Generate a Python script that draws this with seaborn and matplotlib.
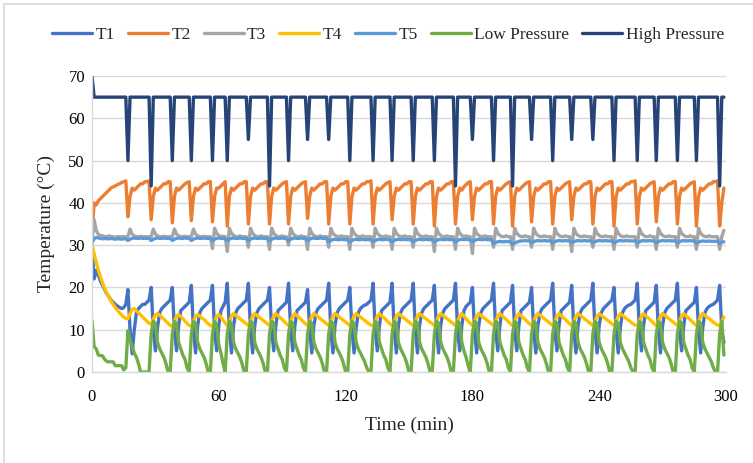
import numpy as np
import pandas as pd
import seaborn as sns
import matplotlib
matplotlib.use("Agg")
import matplotlib.pyplot as plt
from matplotlib.lines import Line2D

# ---------------- data (1-min samples, grouped by cycle) -------------
series_names = ["T1", "T2", "T3", "T4", "T5", "Low Pressure", "High Pressure"]
x_ticks = [0, 60, 120, 180, 240, 300]
y_ticks = [0, 10, 20, 30, 40, 50, 60, 70]

high_pressure = [
    [70, 65, 65, 65, 65, 65, 65, 65, 65, 65, 65, 65, 65, 65, 65, 65, 65],
    [50, 65, 65, 65, 65, 65, 65, 65, 65, 65, 65],
    [44, 65, 65, 65, 65, 65, 65, 65, 65, 65],
    [50, 65, 65, 65, 65, 65, 65, 65, 65],
    [50, 65, 65, 65, 65, 65, 65, 65, 65, 65],
    [50, 65, 65, 65, 65, 65, 65],
    [50, 65, 65, 65, 65, 65, 65, 65, 65, 65],
    [55, 65, 65, 65, 65, 65, 65, 65, 65, 65],
    [44, 65, 65, 65, 65, 65, 65, 65, 65],
    [50, 65, 65, 65, 65, 65, 65, 65, 65],
    [55, 65, 65, 65, 65, 65, 65, 65, 65, 65],
    [55, 65, 65, 65, 65, 65, 65, 65, 65, 65],
    [50, 65, 65, 65, 65, 65, 65, 65, 65, 65, 65],
    [50, 65, 65, 65, 65, 65, 65, 65, 65],
    [50, 65, 65, 65, 65, 65, 65, 65, 65, 65],
    [50, 65, 65, 65, 65, 65, 65, 65, 65, 65],
    [50, 65, 65, 65, 65, 65, 65, 65, 65, 65],
    [44, 65, 65, 65, 65, 65, 65, 65],
    [55, 65, 65, 65, 65, 65, 65, 65, 65, 65],
    [50, 65, 65, 65, 65, 65, 65, 65, 65],
    [44, 65, 65, 65, 65, 65, 65, 65, 65],
    [55, 65, 65, 65, 65, 65, 65, 65, 65, 65],
    [50, 65, 65, 65, 65, 65, 65, 65, 65],
    [55, 65, 65, 65, 65, 65, 65, 65, 65, 65],
    [55, 65, 65, 65, 65, 65, 65, 65, 65, 65],
    [50, 65, 65, 65, 65, 65, 65, 65, 65, 65, 65],
    [50, 65, 65, 65, 65, 65, 65, 65, 65],
    [50, 65, 65, 65, 65, 65, 65, 65, 65, 65],
    [50, 65, 65, 65, 65, 65, 65, 65, 65],
    [50, 65, 65, 65, 65, 65, 65, 65, 65, 65, 65],
    [44, 65, 65],
]

t1 = [
    [30, 22, 24, 23, 21.5, 20.5, 19.5, 18.5, 17.8, 17, 16.5, 16, 15.6, 15.3, 15, 15.2, 16],
    [19.5, 10, 4.3, 10, 14, 15, 15.5, 16, 16, 16.5, 17],
    [20, 10, 5, 10.5, 14, 15, 15.5, 16, 16.5, 17],
    [20, 10, 5, 11, 14.5, 15, 15.5, 16, 16.5],
    [20.5, 10, 4.5, 11, 14, 15, 15.5, 16, 16.5, 17],
    [20.5, 10, 5, 11, 14.5, 15.5, 16.5],
    [21, 10, 4.5, 11, 14, 15, 15.5, 16, 16.5, 17],
    [21, 10, 4.5, 11, 14, 15, 15.5, 16, 16.5, 17],
    [20, 10, 5, 11, 14.5, 15, 15.5, 16, 16.5],
    [21, 10, 5, 11, 14.5, 15, 15.5, 16, 16.5],
    [19.5, 10, 4.5, 11, 14, 15, 15.5, 16, 16.5, 17],
    [21, 10, 4.5, 11, 14, 15, 15.5, 16, 16.5, 17],
    [20, 10, 4.5, 10.5, 14, 15, 15.5, 15.8, 16, 16.5, 17],
    [21, 10, 5, 11, 14.5, 15, 15.5, 16, 16.5],
    [21, 10, 4.5, 11, 14, 15, 15.5, 16, 16.5, 17],
    [21, 10, 4.5, 11, 14, 15, 15.5, 16, 16.5, 17],
    [20.5, 10, 4.5, 11, 14, 15, 15.5, 16, 16.5, 17],
    [21, 10, 5, 11, 14.5, 15.5, 16, 16.5],
    [20, 10, 4.5, 11, 14, 15, 15.5, 16, 16.5, 17],
    [21, 10, 5, 11, 14.5, 15, 15.5, 16, 16.5],
    [20.5, 10, 5, 11, 14.5, 15, 15.5, 16, 16.5],
    [20, 10, 4.5, 11, 14, 15, 15.5, 16, 16.5, 17],
    [21, 10, 5, 11, 14.5, 15, 15.5, 16, 16.5],
    [20.5, 10, 4.5, 11, 14, 15, 15.5, 16, 16.5, 17],
    [21, 10, 4.5, 11, 14, 15, 15.5, 16, 16.5, 17],
    [20, 10, 4.5, 10.5, 14, 15, 15.5, 15.8, 16, 16.5, 17],
    [21, 10, 5, 11, 14.5, 15, 15.5, 16, 16.5],
    [20.5, 10, 4.5, 11, 14, 15, 15.5, 16, 16.5, 17],
    [21, 10, 5, 11, 14.5, 15, 15.5, 16, 16.5],
    [20, 10, 4.5, 10.5, 14, 15, 15.5, 15.8, 16, 16.5, 17],
    [20.5, 10, 7],
]

t2 = [
    [32.5, 40, 39.5, 40.5, 41, 41.5, 42, 42.5, 43, 43.5, 43.8, 44, 44.3, 44.5, 44.8, 45, 45.2],
    [36.7, 41.5, 43.5, 43, 43.5, 44, 44.5, 44.5, 45, 45, 45.2],
    [36, 41.5, 43.5, 43, 43.5, 44, 44.5, 44.5, 45, 45],
    [35.3, 41.5, 43.5, 43, 43.5, 44, 44.5, 44.8, 45],
    [35.8, 41.5, 43.5, 43, 43.5, 44, 44.5, 44.5, 45, 45],
    [35.5, 41.5, 43.5, 43.5, 44, 44.5, 45],
    [34.5, 41.5, 43.5, 43, 43.5, 44, 44.5, 44.5, 45, 45],
    [35, 41.5, 43.5, 43, 43.5, 44, 44.5, 44.5, 45, 45],
    [35, 41.5, 43.5, 43, 43.5, 44, 44.5, 44.8, 45],
    [35, 41.5, 43.5, 43, 43.5, 44, 44.5, 44.8, 45],
    [36.3, 41.5, 43.5, 43, 43.5, 44, 44.5, 44.5, 45, 45],
    [35, 41.5, 43.5, 43, 43.5, 44, 44.5, 44.5, 45, 45],
    [35, 41.5, 43.5, 43, 43.5, 44, 44.5, 44.5, 45, 45, 45.2],
    [35, 41.5, 43.5, 43, 43.5, 44, 44.5, 44.8, 45],
    [36, 41.5, 43.5, 43, 43.5, 44, 44.5, 44.5, 45, 45],
    [35, 41.5, 43.5, 43, 43.5, 44, 44.5, 44.5, 45, 45],
    [34.5, 41.5, 43.5, 43, 43.5, 44, 44.5, 44.5, 45, 45],
    [35, 41.5, 43.5, 43, 43.8, 44.3, 44.8, 45],
    [36, 41.5, 43.5, 43, 43.5, 44, 44.5, 44.5, 45, 45],
    [35, 41.5, 43.5, 43, 43.5, 44, 44.5, 44.8, 45],
    [34.5, 41.5, 43.5, 43, 43.5, 44, 44.5, 44.8, 45],
    [35.5, 41.5, 43.5, 43, 43.5, 44, 44.5, 44.5, 45, 45],
    [35, 41.5, 43.5, 43, 43.5, 44, 44.5, 44.8, 45],
    [36, 41.5, 43.5, 43, 43.5, 44, 44.5, 44.5, 45, 45],
    [35, 41.5, 43.5, 43, 43.5, 44, 44.5, 44.5, 45, 45],
    [34.5, 41.5, 43.5, 43, 43.5, 44, 44.5, 44.5, 45, 45, 45.2],
    [35, 41.5, 43.5, 43, 43.5, 44, 44.5, 44.8, 45],
    [35.5, 41.5, 43.5, 43, 43.5, 44, 44.5, 44.5, 45, 45],
    [35, 41.5, 43.5, 43, 43.5, 44, 44.5, 44.8, 45],
    [34.5, 41.5, 43.5, 43, 43.5, 44, 44.5, 44.5, 45, 45, 45.2],
    [34.5, 40, 43.5],
]

t3 = [
    [31, 36, 33.5, 32.5, 32.3, 32.2, 32, 32, 32.2, 32, 32, 31.8, 32, 32, 32, 32, 32],
    [32, 33.8, 32.6, 32.2, 32, 32, 32.1, 32, 32, 32, 32],
    [32, 33.8, 32.6, 32.2, 32, 32, 32.1, 32, 32, 32],
    [32, 33.8, 32.6, 32.2, 32, 32, 32.1, 32, 32],
    [32, 33.8, 32.6, 32.2, 32, 32, 32.1, 32, 32, 32],
    [29.2, 34, 32.8, 32.3, 32, 32.1, 32],
    [28.5, 34, 32.8, 32.3, 32, 32, 32.2, 32, 32, 32],
    [29.5, 34, 32.8, 32.3, 32, 32, 32.2, 32, 32, 32],
    [29, 34, 32.8, 32.3, 32, 32, 32.2, 32, 32],
    [30, 34, 32.8, 32.3, 32, 32, 32.2, 32, 32],
    [29, 34, 32.8, 32.3, 32, 32, 32.2, 32, 32, 32],
    [29.5, 34, 32.8, 32.3, 32, 32, 32.2, 32, 32, 32],
    [29, 34, 32.8, 32.3, 32, 32, 32.2, 32, 32, 32, 32],
    [29.5, 34, 32.8, 32.3, 32, 32, 32.2, 32, 32],
    [29, 34, 32.8, 32.3, 32, 32, 32.2, 32, 32, 32],
    [29.5, 34, 32.8, 32.3, 32, 32, 32.2, 32, 32, 32],
    [28.5, 34, 32.8, 32.3, 32, 32, 32.2, 32, 32, 32],
    [29, 34, 32.8, 32.3, 32, 32.2, 32, 32],
    [28, 34, 32.8, 32.3, 32, 32, 32.2, 32, 32, 32],
    [29.5, 34, 32.8, 32.3, 32, 32, 32.2, 32, 32],
    [29, 34, 32.8, 32.3, 32, 32, 32.2, 32, 32],
    [29.5, 34, 32.8, 32.3, 32, 32, 32.2, 32, 32, 32],
    [29, 34, 32.8, 32.3, 32, 32, 32.2, 32, 32],
    [28.5, 34, 32.8, 32.3, 32, 32, 32.2, 32, 32, 32],
    [29.5, 34, 32.8, 32.3, 32, 32, 32.2, 32, 32, 32],
    [29, 34, 32.8, 32.3, 32, 32, 32.2, 32, 32, 32, 32],
    [29.5, 34, 32.8, 32.3, 32, 32, 32.2, 32, 32],
    [29, 34, 32.8, 32.3, 32, 32, 32.2, 32, 32, 32],
    [29.5, 34, 32.8, 32.3, 32, 32, 32.2, 32, 32],
    [29, 34, 32.8, 32.3, 32, 32, 32.2, 32, 32, 32, 32],
    [29, 32, 33.5],
]

t4 = [
    [30, 28, 26, 24, 22.5, 21, 19.8, 18.7, 17.7, 16.8, 16, 15.3, 14.6, 14, 13.5, 13, 12.7],
    [12.6, 13.8, 14.8, 15, 14.5, 14, 13.5, 13, 12.5, 12, 11.5],
    [11.3, 12.5, 13.5, 13.8, 13.4, 13, 12.5, 12, 11.5, 11],
    [10.8, 12, 13.2, 13.6, 13.1, 12.6, 12, 11.5, 11],
    [10.8, 12, 13.2, 13.6, 13.2, 12.8, 12.4, 11.9, 11.4, 11],
    [10.8, 12, 13.2, 13.6, 13, 12.3, 11.6],
    [11, 12, 13.2, 13.8, 13.4, 13, 12.6, 12.2, 11.8, 11.4],
    [11, 12, 13.2, 13.8, 13.4, 13, 12.6, 12.2, 11.8, 11.4],
    [11, 12, 13.2, 13.8, 13.3, 12.9, 12.4, 11.9, 11.4],
    [11, 12, 13.2, 13.8, 13.3, 12.9, 12.4, 11.9, 11.4],
    [11, 12, 13.2, 13.8, 13.4, 13, 12.6, 12.2, 11.8, 11.4],
    [11, 12, 13.2, 13.8, 13.4, 13, 12.6, 12.2, 11.8, 11.4],
    [11, 12, 13.2, 13.8, 13.4, 13, 12.6, 12.2, 11.8, 11.4, 11.1],
    [11, 12, 13.2, 13.8, 13.3, 12.9, 12.4, 11.9, 11.4],
    [11, 12, 13.2, 13.8, 13.4, 13, 12.6, 12.2, 11.8, 11.4],
    [11, 12, 13.2, 13.8, 13.4, 13, 12.6, 12.2, 11.8, 11.4],
    [11, 12, 13.2, 13.8, 13.4, 13, 12.6, 12.2, 11.8, 11.4],
    [11, 12, 13.2, 13.8, 13.2, 12.6, 12, 11.5],
    [11, 12, 13.2, 13.8, 13.4, 13, 12.6, 12.2, 11.8, 11.4],
    [11, 12, 13.2, 13.8, 13.3, 12.9, 12.4, 11.9, 11.4],
    [11, 12, 13.2, 13.8, 13.3, 12.9, 12.4, 11.9, 11.4],
    [11, 12, 13.2, 13.8, 13.4, 13, 12.6, 12.2, 11.8, 11.4],
    [11, 12, 13.2, 13.8, 13.3, 12.9, 12.4, 11.9, 11.4],
    [11, 12, 13.2, 13.8, 13.4, 13, 12.6, 12.2, 11.8, 11.4],
    [11, 12, 13.2, 13.8, 13.4, 13, 12.6, 12.2, 11.8, 11.4],
    [11, 12, 13.2, 13.8, 13.4, 13, 12.6, 12.2, 11.8, 11.4, 11.1],
    [11, 12, 13.2, 13.8, 13.3, 12.9, 12.4, 11.9, 11.4],
    [11, 12, 13.2, 13.8, 13.4, 13, 12.6, 12.2, 11.8, 11.4],
    [11, 12, 13.2, 13.8, 13.3, 12.9, 12.4, 11.9, 11.4],
    [11, 12, 13.2, 13.8, 13.4, 13, 12.6, 12.2, 11.8, 11.4, 11.1],
    [11, 12, 13],
]

t5 = [
    [30.5, 31.5, 31.8, 31.7, 31.6, 31.5, 31.6, 31.5, 31.5, 31.6, 31.5, 31.4, 31.5, 31.5, 31.4, 31.5, 31.5],
    [31.1, 31.4, 31.6, 31.7, 31.6, 31.6, 31.7, 31.6, 31.6, 31.6, 31.6],
    [31.1, 31.4, 31.6, 31.7, 31.6, 31.6, 31.7, 31.6, 31.6, 31.6],
    [31.1, 31.4, 31.6, 31.7, 31.6, 31.6, 31.7, 31.6, 31.6],
    [31.1, 31.4, 31.6, 31.7, 31.6, 31.6, 31.7, 31.6, 31.6, 31.6],
    [31.1, 31.4, 31.6, 31.7, 31.6, 31.6, 31.6],
    [31.1, 31.4, 31.6, 31.7, 31.6, 31.6, 31.7, 31.6, 31.6, 31.6],
    [31.1, 31.4, 31.6, 31.7, 31.6, 31.6, 31.7, 31.6, 31.6, 31.6],
    [31.1, 31.4, 31.6, 31.7, 31.6, 31.6, 31.7, 31.6, 31.6],
    [31.1, 31.4, 31.6, 31.7, 31.6, 31.6, 31.7, 31.6, 31.6],
    [31.1, 31.4, 31.6, 31.7, 31.6, 31.6, 31.7, 31.6, 31.6, 31.6],
    [30.8, 31.1, 31.3, 31.4, 31.3, 31.3, 31.4, 31.3, 31.3, 31.3],
    [30.8, 31.1, 31.3, 31.4, 31.3, 31.3, 31.4, 31.3, 31.3, 31.3, 31.3],
    [30.8, 31.1, 31.3, 31.4, 31.3, 31.3, 31.4, 31.3, 31.3],
    [30.8, 31.1, 31.3, 31.4, 31.3, 31.3, 31.4, 31.3, 31.3, 31.3],
    [30.8, 31.1, 31.3, 31.4, 31.3, 31.3, 31.4, 31.3, 31.3, 31.3],
    [30.8, 31.1, 31.3, 31.4, 31.3, 31.3, 31.4, 31.3, 31.3, 31.3],
    [30.8, 31.1, 31.3, 31.4, 31.3, 31.4, 31.3, 31.3],
    [30.8, 31.1, 31.3, 31.4, 31.3, 31.3, 31.4, 31.3, 31.3, 31.3],
    [30.3, 30.6, 30.8, 30.9, 30.8, 30.8, 30.9, 30.8, 30.8],
    [30.2, 30.5, 30.7, 30.9, 31, 31, 31.1, 31, 31],
    [30.5, 30.8, 31, 31.1, 31, 31, 31.1, 31, 31, 31],
    [30.5, 30.8, 31, 31.1, 31, 31, 31.1, 31, 31],
    [30.5, 30.8, 31, 31.1, 31, 31, 31.1, 31, 31, 31],
    [30.5, 30.8, 31, 31.1, 31, 31, 31.1, 31, 31, 31],
    [30.5, 30.8, 31, 31.1, 31, 31, 31.1, 31, 31, 31, 31],
    [30.5, 30.8, 31, 31.1, 31, 31, 31.1, 31, 31],
    [30.5, 30.8, 31, 31.1, 31, 31, 31.1, 31, 31, 31],
    [30.5, 30.8, 31, 31.1, 31, 31, 31.1, 31, 31],
    [30.4, 30.7, 30.9, 31, 30.9, 30.9, 31, 30.9, 30.9, 30.9, 30.9],
    [30.4, 30.7, 30.8],
]

low_pressure = [
    [12.2, 6, 5.5, 4, 3.9, 3.8, 3, 2.5, 2.4, 2.4, 2.4, 1.5, 1.5, 1.5, 1.5, 0.5, 1],
    [9.8, 7.5, 6, 4.5, 3.5, 2, 0, 0, 0, 0, 0],
    [9, 12, 11.5, 7, 5.5, 4.5, 3.5, 2, 0, 0],
    [9, 12, 11.5, 7, 5.5, 4, 3, 1, 0],
    [9, 12, 11.5, 7, 5.5, 4.5, 3.5, 2, 0, 0],
    [9, 12, 11, 6.5, 4.5, 2, 0],
    [9, 12, 11.5, 7, 5.5, 4.5, 3.5, 2, 0, 0],
    [9, 12, 11.5, 7, 5.5, 4.5, 3.5, 2, 0, 0],
    [9, 12, 11.5, 7, 5.5, 4, 3, 1, 0],
    [9, 12, 11.5, 7, 5.5, 4, 3, 1, 0],
    [9, 12, 11.5, 7, 5.5, 4.5, 3.5, 2, 0, 0],
    [9, 12, 11.5, 7, 5.5, 4.5, 3.5, 2, 0, 0],
    [9, 12, 11.5, 7, 5.5, 4.5, 3.5, 2.5, 1, 0, 0],
    [9, 12, 11.5, 7, 5.5, 4, 3, 1, 0],
    [9, 12, 11.5, 7, 5.5, 4.5, 3.5, 2, 0, 0],
    [9, 12, 11.5, 7, 5.5, 4.5, 3.5, 2, 0, 0],
    [9, 12, 11.5, 7, 5.5, 4.5, 3.5, 2, 0, 0],
    [9, 12, 11.5, 7, 5, 3.5, 1.5, 0],
    [9, 12, 11.5, 7, 5.5, 4.5, 3.5, 2, 0, 0],
    [9, 12, 11.5, 7, 5.5, 4, 3, 1, 0],
    [9, 12, 11.5, 7, 5.5, 4, 3, 1, 0],
    [9, 12, 11.5, 7, 5.5, 4.5, 3.5, 2, 0, 0],
    [9, 12, 11.5, 7, 5.5, 4, 3, 1, 0],
    [9, 12, 11.5, 7, 5.5, 4.5, 3.5, 2, 0, 0],
    [9, 12, 11.5, 7, 5.5, 4.5, 3.5, 2, 0, 0],
    [9, 12, 11.5, 7, 5.5, 4.5, 3.5, 2.5, 1, 0, 0],
    [9, 12, 11.5, 7, 5.5, 4, 3, 1, 0],
    [9, 12, 11.5, 7, 5.5, 4.5, 3.5, 2, 0, 0],
    [9, 12, 11.5, 7, 5.5, 4, 3, 1, 0],
    [9, 12, 11.5, 7, 5.5, 4.5, 3.5, 2.5, 1, 0, 0],
    [9, 12, 4],
]

# ---------------- styling ----------------
colors = ["#4472C4", "#ED7D31", "#A5A5A5", "#FFC000", "#5B9BD5", "#70AD47", "#264478"]
all_series = [t1, t2, t3, t4, t5, low_pressure, high_pressure]

rows = []
for name, segs in zip(series_names, all_series):
    flat = [v for seg in segs for v in seg]
    for i, v in enumerate(flat):
        rows.append((name, i, v))
df = pd.DataFrame(rows, columns=["series", "time", "value"])

sns.set_theme(style="white")
plt.rcParams["font.family"] = ["Liberation Serif", "DejaVu Serif"]

fig = plt.figure(figsize=(7.53, 4.63), dpi=100)
ax = fig.add_axes([92 / 753, 1 - 372 / 463, (726 - 92) / 753, (372 - 76) / 463])

sns.lineplot(data=df, x="time", y="value", hue="series", hue_order=series_names,
             palette=colors, linewidth=2.4, legend=False, ax=ax, estimator=None,
             sort=False)

ax.set_xlim(0, 300)
ax.set_ylim(0, 70)
ax.set_xticks(x_ticks)
ax.set_yticks(y_ticks)
ax.tick_params(axis="both", labelsize=12, length=0, colors="#000000")
ax.tick_params(axis="x", pad=12)
ax.tick_params(axis="y", pad=5)
ax.grid(axis="y", color="#D9D9D9", linewidth=1.0)
ax.grid(axis="x", visible=False)
ax.set_axisbelow(True)
for side in ["top", "right"]:
    ax.spines[side].set_visible(False)
for side in ["left", "bottom"]:
    ax.spines[side].set_color("#D9D9D9")
    ax.spines[side].set_linewidth(1.0)
ax.set_xlabel("Time (min)", fontsize=14, labelpad=9)
ax.set_ylabel("Temperature (°C)", fontsize=14, labelpad=10)

handles = [Line2D([0], [0], color=c, lw=2.4) for c in colors]
fig.legend(handles, series_names, loc="center", bbox_to_anchor=(388 / 753, 1 - 35 / 463),
           ncol=7, frameon=False, fontsize=12.5, handlelength=2.3, handletextpad=0.2,
           columnspacing=0.75)

# chart-area frame (only the top and left edges are visible in the screenshot)
fig.add_artist(Line2D([4 / 753, 4 / 753], [0, 1 - 4 / 463], transform=fig.transFigure,
                      color="#D9D9D9", linewidth=1.2))
fig.add_artist(Line2D([4 / 753, 1], [1 - 4 / 463, 1 - 4 / 463], transform=fig.transFigure,
                      color="#D9D9D9", linewidth=1.2))

fig.savefig("out.png", dpi=100)
